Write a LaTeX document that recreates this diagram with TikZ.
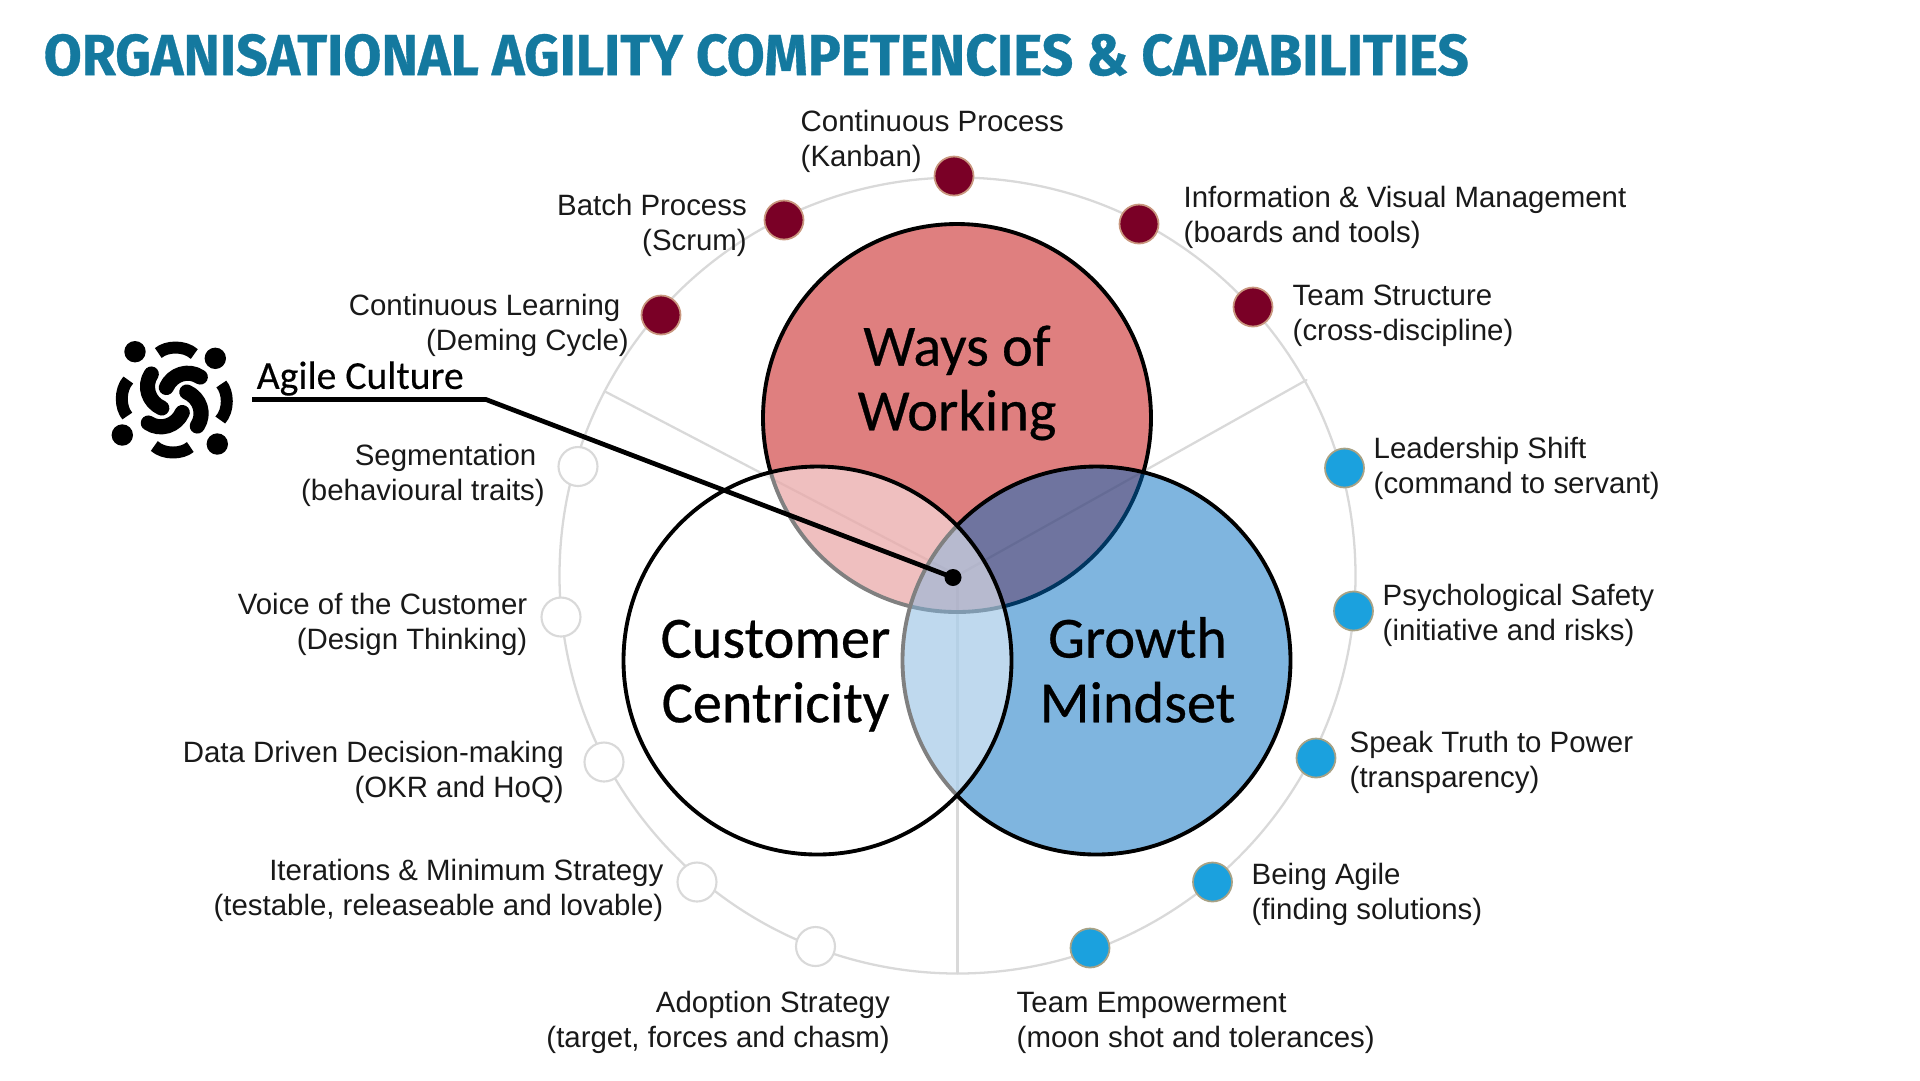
\documentclass[tikz,border=0pt]{standalone}
\usepackage{fontspec}
\setmainfont{Liberation Sans}
\newfontfamily\titlefont[FakeStretch=0.952,FakeBold=0.6]{Fira Sans}
\newfontfamily\venfont[FakeBold=0.5]{Carlito}
\newfontfamily\culturefont[FakeBold=0.3]{Carlito}
\definecolor{titleblue}{HTML}{14799F}
\definecolor{wowred}{HTML}{C00000}
\definecolor{gmblue}{HTML}{006BBF}
\definecolor{ringgrey}{HTML}{D9D9D9}
\definecolor{maroondot}{HTML}{7A0026}
\definecolor{bluedot}{HTML}{1BA1DE}
\definecolor{maroonedge}{HTML}{C9977F}
\definecolor{blueedge}{HTML}{A8A285}
\begin{document}
\begin{tikzpicture}[x=0.1mm, y=-0.1mm, line cap=round, line join=round,
    ring/.style={draw=ringgrey, line width=0.65pt},
    wowdot/.style={circle, minimum size=3.9mm, inner sep=0pt, draw=maroonedge, line width=0.5pt, fill=maroondot},
    gmdot/.style={circle, minimum size=3.9mm, inner sep=0pt, draw=blueedge, line width=0.5pt, fill=bluedot},
    ccdot/.style={circle, minimum size=3.9mm, inner sep=0pt, draw=ringgrey, line width=0.6pt, fill=white},
    venn/.style={circle, minimum size=38.8mm, inner sep=0pt, draw=black, line width=1.1pt},
    venlab/.style={align=center, inner sep=0pt, font=\venfont\fontsize{16.6}{18.4}\selectfont},
    lablft/.style={anchor=east, align=right, inner sep=0pt, text=black!90, font=\fontsize{8.37}{9.97}\selectfont},
    labrgt/.style={anchor=west, align=left, inner sep=0pt, text=black!90, font=\fontsize{8.37}{9.97}\selectfont},
    swirl/.style={line width=4.3pt, line cap=round},
    swirlout/.style={line width=3.4pt, line cap=butt}]
  \useasboundingbox (0,0) rectangle (1920,1080);
  \node[anchor=west, inner sep=0pt, text=titleblue, font=\titlefont\bfseries\fontsize{16.5}{20}\selectfont] (title) at (43,55) {ORGANISATIONAL AGILITY COMPETENCIES \& CAPABILITIES};
  % ring and spokes
  \coordinate (hub) at (957.5,575.5);
  \coordinate (spokeA) at (606,392);
  \coordinate (spokeB) at (1306.5,380);
  \coordinate (spokeC) at (957.5,973.5);
  \draw[ring] (hub) circle (398);
  \draw[ring] (hub) -- (spokeA);
  \draw[ring] (hub) -- (spokeB);
  \draw[ring] (hub) -- (spokeC);
  % venn
  \node[venn, fill=wowred, fill opacity=0.5] (ways) at (957,418) {};
  \node[venn, fill=gmblue, fill opacity=0.5] (growth) at (1096.5,660.5) {};
  \node[venn, fill=white, fill opacity=0.5] (customer) at (817.5,660.5) {};
  \node[venlab] (waysL) at (957,385) {\strut Ways of\\\strut Working};
  \node[venlab] (customerL) at (775.5,677) {\strut Customer\\\strut Centricity};
  \node[venlab] (growthL) at (1137.5,677) {\strut Growth\\\strut Mindset};
  % dots
  \node[wowdot] (d1) at (954,176) {};
  \node[wowdot] (d2) at (784,220) {};
  \node[wowdot] (d3) at (1139,224) {};
  \node[wowdot] (d4) at (661,315) {};
  \node[wowdot] (d5) at (1253,307) {};
  \node[gmdot] (g1) at (1344.5,468) {};
  \node[gmdot] (g2) at (1353.5,611) {};
  \node[gmdot] (g3) at (1316,758) {};
  \node[gmdot] (g4) at (1212.5,882) {};
  \node[gmdot] (g5) at (1090,948) {};
  \node[ccdot] (c1) at (578,466.5) {};
  \node[ccdot] (c2) at (561,617) {};
  \node[ccdot] (c3) at (604,762) {};
  \node[ccdot] (c4) at (697,882) {};
  \node[ccdot] (c5) at (815.5,946.5) {};
  % labels
  \node[labrgt] (d1L) at (800,141.5) {Continuous Process\\(Kanban)};
  \node[lablft] (d2L) at (747.5,225.5) {Batch Process\\(Scrum)};
  \node[labrgt] (d3L) at (1183,217) {Information \& Visual Management\\(boards and tools)};
  \node[lablft] (d4L) at (629.5,325.5) {Continuous Learning\hspace*{2.4pt}\\(Deming Cycle)};
  \node[labrgt] (d5L) at (1292,315.5) {Team Structure\\(cross-discipline)};
  \node[labrgt] (g1L) at (1373,468) {Leadership Shift\\(command to servant)};
  \node[labrgt] (g2L) at (1382,615) {Psychological Safety\\(initiative and risks)};
  \node[labrgt] (g3L) at (1349,762) {Speak Truth to Power\\(transparency)};
  \node[labrgt] (g4L) at (1251,894.5) {Being Agile\\(finding solutions)};
  \node[labrgt] (g5L) at (1016,1022.5) {Team Empowerment\\(moon shot and tolerances)};
  \node[lablft] (c1L) at (545.5,475) {Segmentation\hspace*{2.4pt}\\(behavioural traits)};
  \node[lablft] (c2L) at (528,624) {Voice of the Customer\\(Design Thinking)};
  \node[lablft] (c3L) at (564.5,772) {Data Driven Decision-making\\(OKR and HoQ)};
  \node[lablft] (c4L) at (664,890) {Iterations \& Minimum Strategy\\(testable, releaseable and lovable)};
  \node[lablft] (c5L) at (890.5,1022) {Adoption Strategy\\(target, forces and chasm)};
  % agile culture callout
  \node[anchor=west, inner sep=0pt, font=\culturefont\fontsize{11.3}{13}\selectfont] (culture) at (256,378.5) {Agile Culture};
  \coordinate (lineStart) at (252,399.5);
  \coordinate (lineBend) at (486,399.5);
  \node[circle, fill=black, minimum size=1.7mm, inner sep=0pt] (cultureDot) at (953,577.5) {};
  \draw[line width=1.35pt, line cap=butt] (lineStart) -- (lineBend) -- (cultureDot.center);
  % icon
  \begin{scope}[shift={(174.3,400)}]
    \fill (-39.3,-48.3) circle (10.7);
    \fill (41,-41.7) circle (10.7);
    \fill (-52,35) circle (10.7);
    \fill (43,44) circle (10.7);
    \foreach \a in {0,90,180,270} {
      \begin{scope}[rotate=\a]
        \draw[swirl] (-8,-12.5) .. controls (-2,-26) and (14,-31) .. (26,-23);
        \draw[swirlout] (-16,-47) .. controls (-8,-54) and (10,-55) .. (20,-46);
      \end{scope}
    }
  \end{scope}
\end{tikzpicture}
\end{document}
